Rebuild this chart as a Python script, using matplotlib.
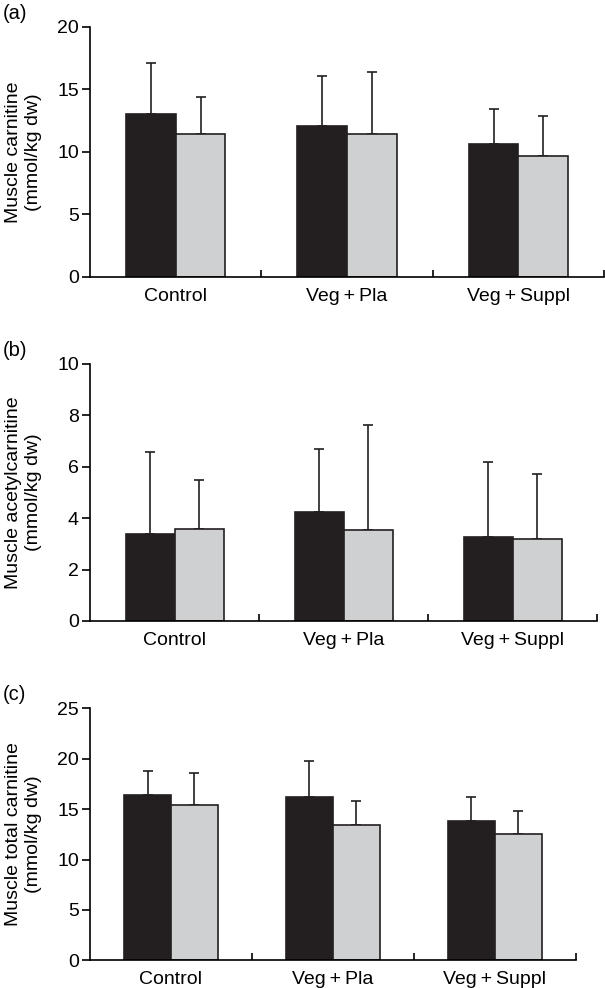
import numpy as np
import matplotlib
matplotlib.use("Agg")
import matplotlib.pyplot as plt

plt.rcParams['font.family'] = ['Liberation Sans', 'DejaVu Sans']

# Data
groups = ["Control", "Veg\u2009+\u2009Pla", "Veg\u2009+\u2009Suppl"]

carn_black = [13.05, 12.08, 10.61]
carn_black_sd = [4.04, 4.02, 2.80]
carn_gray = [11.39, 11.39, 9.68]
carn_gray_sd = [3.01, 4.96, 3.20]

acetyl_black = [3.37, 4.25, 3.27]
acetyl_black_sd = [3.19, 2.44, 2.90]
acetyl_gray = [3.59, 3.53, 3.20]
acetyl_gray_sd = [1.90, 4.10, 2.53]

total_black = [16.37, 16.20, 13.82]
total_black_sd = [2.41, 3.54, 2.35]
total_gray = [15.41, 13.43, 12.53]
total_gray_sd = [3.17, 2.38, 2.28]

panels = [
    ("(a)", "Muscle carnitine\n(mmol/kg dw)", carn_black, carn_black_sd, carn_gray, carn_gray_sd,
     20, 5, [0.1488, 0.7199, 0.8496, 0.2530]),
    ("(b)", "Muscle acetylcarnitine\n(mmol/kg dw)", acetyl_black, acetyl_black_sd, acetyl_gray, acetyl_gray_sd,
     10, 2, [0.1488, 0.3715, 0.838, 0.2601]),
    ("(c)", "Muscle total carnitine\n(mmol/kg dw)", total_black, total_black_sd, total_gray, total_gray_sd,
     25, 5, [0.1488, 0.0280, 0.803, 0.2551]),
]

black = "#231f20"
gray = "#cfd0d2"
w = 0.29

fig = plt.figure(figsize=(6.05, 9.88), dpi=100)

for letter, ylab, bk, bk_sd, gr, gr_sd, ymax, step, pos in panels:
    ax = fig.add_axes(pos)
    x = np.arange(len(groups))
    ax.bar(x - w / 2, bk, w, color=black, edgecolor=black, linewidth=1.2, zorder=2)
    ax.bar(x + w / 2, gr, w, color=gray, edgecolor=black, linewidth=1.2, zorder=2)
    ax.errorbar(x - w / 2, bk, yerr=[np.zeros(3), bk_sd], fmt="none", ecolor=black,
                elinewidth=1.2, capsize=3.6, capthick=1.2, zorder=1)
    ax.errorbar(x + w / 2, gr, yerr=[np.zeros(3), gr_sd], fmt="none", ecolor=black,
                elinewidth=1.2, capsize=3.6, capthick=1.2, zorder=1)

    ax.set_xlim(-0.5, 2.5)
    ax.set_ylim(0, ymax)
    ax.set_yticks(np.arange(0, ymax + 0.1, step))
    ax.set_xticks(x)
    ax.set_xticklabels(groups, fontsize=14)
    ax.set_xticks([0.5, 1.5, 2.5], minor=True)
    ax.tick_params(axis="x", which="major", length=0, pad=8)
    ax.tick_params(axis="x", which="minor", direction="in", length=5, width=1.2)
    ax.tick_params(axis="y", direction="out", length=6, width=1.2, labelsize=14, pad=2)
    for s in ["top", "right"]:
        ax.spines[s].set_visible(False)
    for s in ["left", "bottom"]:
        ax.spines[s].set_linewidth(1.2)
    ax.set_ylabel(ylab, fontsize=14, linespacing=1.25, labelpad=11)
    fig.text(0.004, pos[1] + pos[3] + 0.004, letter, fontsize=14.5, va="bottom", ha="left")

fig.savefig("out.png", dpi=100)
